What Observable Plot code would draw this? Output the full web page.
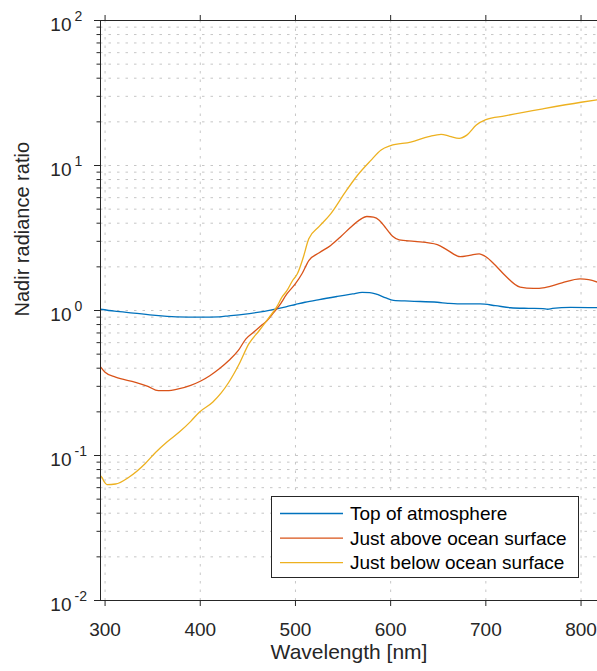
<!DOCTYPE html>
<html><head><meta charset="utf-8">
<script src="https://cdn.jsdelivr.net/npm/d3@7"></script>
<script src="https://cdn.jsdelivr.net/npm/@observablehq/plot@0.6"></script>
<style>
html,body{margin:0;padding:0;background:#fff;}
#chart{position:relative;width:597px;height:671px;}
</style></head><body><div id="chart"></div>
<script>
const seriesNames = ["Top of atmosphere", "Just above ocean surface", "Just below ocean surface"];
const seriesColors = ["#0072BD", "#D95319", "#EDB120"];

const toaWl  = [295, 310, 330, 353, 375, 400, 420, 430, 445, 460, 475, 490, 500, 510, 525, 544, 560, 570, 578, 586, 595, 603, 620, 649, 660, 670, 694, 710, 726, 745, 760, 765, 770, 789, 817];
const toaVal = [1.02, 0.99, 0.96, 0.925, 0.905, 0.899, 0.905, 0.919, 0.94, 0.97, 1.01, 1.06, 1.10, 1.14, 1.19, 1.25, 1.30, 1.335, 1.33, 1.29, 1.22, 1.175, 1.16, 1.14, 1.12, 1.11, 1.11, 1.08, 1.045, 1.035, 1.03, 1.02, 1.035, 1.05, 1.045];

const aboveWl  = [295, 300, 311, 332, 345, 356, 365, 377, 390, 400, 410, 420, 430, 440, 448, 455, 462, 470, 476, 483, 491, 500, 507, 514, 525, 537, 548, 558, 567, 575, 582, 588, 595, 602, 609, 625, 649, 660, 673, 683, 693, 700, 710, 720, 736, 750, 762, 780, 799, 808, 817];
const aboveVal = [0.41, 0.375, 0.347, 0.32, 0.30, 0.28, 0.28, 0.288, 0.305, 0.325, 0.355, 0.396, 0.452, 0.53, 0.638, 0.70, 0.767, 0.85, 0.948, 1.08, 1.30, 1.53, 1.80, 2.21, 2.50, 2.81, 3.25, 3.75, 4.2, 4.45, 4.4, 4.2, 3.7, 3.25, 3.07, 3.0, 2.85, 2.6, 2.35, 2.4, 2.46, 2.35, 2.05, 1.75, 1.45, 1.42, 1.44, 1.55, 1.65, 1.63, 1.57];

const belowWl  = [295, 297, 299, 302, 311, 325, 342, 353, 365, 378, 390, 399, 413, 422, 430, 441, 451, 462, 472, 480, 486, 491, 497, 502, 508, 514, 525, 537, 552, 565, 579, 590, 600, 621, 640, 653, 662, 672, 680, 690, 700, 720, 760, 800, 817];
const belowVal = [0.0728, 0.07, 0.066, 0.063, 0.0636, 0.0708, 0.0877, 0.105, 0.124, 0.145, 0.172, 0.199, 0.233, 0.27, 0.32, 0.429, 0.588, 0.728, 0.89, 1.05, 1.24, 1.37, 1.61, 1.79, 2.3, 3.12, 3.8, 4.64, 6.5, 8.53, 10.8, 12.8, 13.7, 14.5, 15.8, 16.4, 15.9, 15.4, 16.2, 19.0, 20.7, 22.0, 24.6, 27.3, 28.4];

const xTicks = [300, 400, 500, 600, 700, 800];
const xTickLabels = ["300", "400", "500", "600", "700", "800"];
const yMajor = [0.01, 0.1, 1, 10, 100];
const yBase = "10";
const yExp = ["-2", "-1", "0", "1", "2"];
const xLabel = "Wavelength [nm]";
const yLabel = "Nadir radiance ratio";

const yMinor = [];
for (const d of yMajor.slice(0, -1)) for (let k = 2; k <= 9; k++) yMinor.push(d * k);

const wls = [toaWl, aboveWl, belowWl];
const vals = [toaVal, aboveVal, belowVal];
const rows = [];
seriesNames.forEach((name, i) => wls[i].forEach((w, j) => rows.push({series: name, wl: w, v: vals[i][j]})));

const gridStyle = {stroke: "#c6c6c6", strokeWidth: 1, strokeDasharray: "2.5,6"};
const axisColor = "#262626";

const chart = Plot.plot({
  width: 597, height: 671,
  marginLeft: 100, marginRight: 0, marginTop: 20, marginBottom: 71,
  x: {domain: [295.2, 817.3], label: null},
  y: {type: "log", domain: [0.01, 100], label: null},
  color: {domain: seriesNames, range: seriesColors},
  style: {fontFamily: "'Liberation Sans', Arial, Helvetica, sans-serif", fontSize: "19px", color: axisColor, background: "white", overflow: "visible"},
  marks: [
    Plot.ruleX(xTicks, gridStyle),
    Plot.ruleY([...yMinor, ...yMajor], gridStyle),
    Plot.line(rows, {x: "wl", y: "v", z: "series", stroke: "series", strokeWidth: 1.3, curve: "monotone-x", clip: true}),
    Plot.ruleY([0.01, 100], {stroke: axisColor, strokeWidth: 1}),
    Plot.ruleX([295.2], {stroke: axisColor, strokeWidth: 1}),
    Plot.axisX({anchor: "bottom", ticks: xTicks, tickFormat: d => xTickLabels[xTicks.indexOf(d)], tickSize: 6, tickPadding: 16, fontSize: 19, label: null}),
    Plot.axisX({anchor: "top", ticks: xTicks, tickFormat: () => "", tickSize: 6, label: null}),
    Plot.axisY({anchor: "left", ticks: yMajor, tickFormat: () => "", tickSize: 6, label: null}),
    Plot.axisY({anchor: "left", ticks: yMinor, tickFormat: () => "", tickSize: 3.5, label: null}),
    Plot.text(yMajor, {y: d => d, text: () => yBase, frameAnchor: "left", textAnchor: "end", dx: -29, dy: 4, fontSize: 19, fill: axisColor}),
    Plot.text(yMajor.map((v, i) => ({v, e: yExp[i]})), {y: "v", text: "e", frameAnchor: "left", textAnchor: "start", dx: -26, dy: -4, fontSize: 14, fill: axisColor}),
    Plot.text([xLabel], {text: d => d, frameAnchor: "bottom", dy: 58, fontSize: 21, fill: axisColor}),
    Plot.text([yLabel], {text: d => d, frameAnchor: "left", rotate: -90, dx: -78, dy: 6, fontSize: 20, fill: axisColor})
  ]
});
document.getElementById("chart").appendChild(chart);

// legend
const svg = d3.select(chart);
const lg = svg.append("g").attr("font-family", "'Liberation Sans', Arial, Helvetica, sans-serif").attr("font-size", 19).attr("text-anchor", "start");
lg.append("rect").attr("x", 271.5).attr("y", 496.5).attr("width", 307).attr("height", 81)
  .attr("fill", "white").attr("stroke", axisColor).attr("stroke-width", 1);
seriesNames.forEach((name, i) => {
  const cy = 513.5 + i * 24.6;
  lg.append("line").attr("x1", 280).attr("x2", 343).attr("y1", cy).attr("y2", cy)
    .attr("stroke", seriesColors[i]).attr("stroke-width", 1.3);
  lg.append("text").attr("x", 350).attr("y", cy).attr("dy", "0.35em").attr("text-anchor", "start").attr("fill", "#000").text(name);
});
</script></body></html>
